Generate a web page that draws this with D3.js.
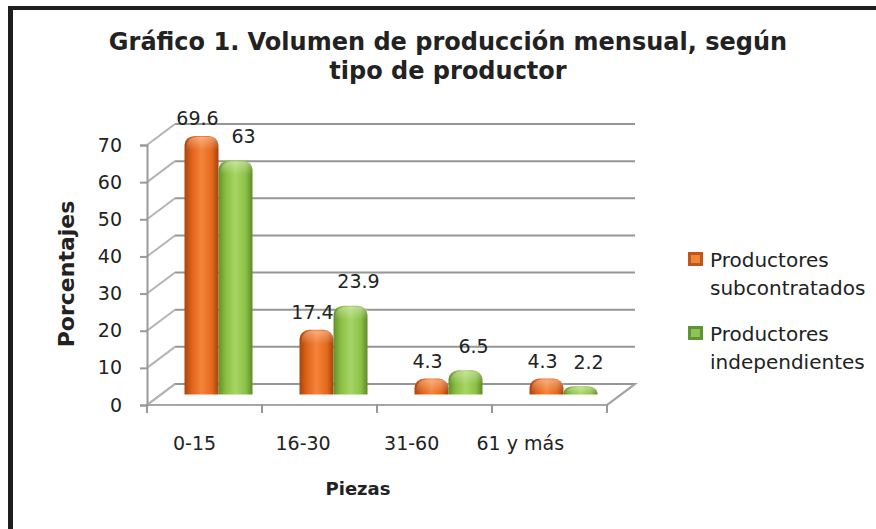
<!DOCTYPE html>
<html>
<head>
<meta charset="utf-8">
<script src="https://cdn.jsdelivr.net/npm/d3@7"></script>
<style>
  body { margin: 0; background: #fff; }
  text { font-family: "DejaVu Sans", Verdana, sans-serif; fill: #222; }
</style>
</head>
<body>
<div id="chart"></div>
<script>
// Data
var categories = ["0-15", "16-30", "31-60", "61 y más"];
var seriesNames = ["Productores subcontratados", "Productores independientes"];
var subcontratados = [69.6, 17.4, 4.3, 4.3];
var independientes = [63, 23.9, 6.5, 2.2];
var yTicks = [0, 10, 20, 30, 40, 50, 60, 70];

//Width and height
var w = 876;
var h = 529;

// 3d depth offset of the back wall
var depthX = 28, depthY = -21;

var svg = d3.select("#chart").append("svg")
  .attr("width", w)
  .attr("height", h);

svg.append("rect").attr("width", w).attr("height", h).attr("fill", "#fff");

//Frame (only top and left are visible)
svg.append("rect").attr("x", 8).attr("y", 6).attr("width", w - 8).attr("height", 4).attr("fill", "#1e1e1e");
svg.append("rect").attr("x", 8).attr("y", 6).attr("width", 5).attr("height", h - 6).attr("fill", "#1e1e1e");

//Scales
var xScale = d3.scaleBand()
  .domain(categories)
  .range([147, 607])
  .padding(0);

var yScale = d3.scaleLinear()
  .domain([0, 70])
  .range([405, 145]);

var series = [
  { name: seriesNames[0], values: subcontratados, key: "orange" },
  { name: seriesNames[1], values: independientes, key: "green" }
];

//Gradients
var defs = svg.append("defs");
var grads = {
  orange: [["0%", "#a9440b"], ["22%", "#e0641a"], ["50%", "#f5843a"], ["80%", "#e46a1d"], ["100%", "#a5430d"]],
  green: [["0%", "#648f2a"], ["22%", "#8bbf43"], ["50%", "#a7d565"], ["80%", "#8cc146"], ["100%", "#5f8a28"]]
};
Object.keys(grads).forEach(function(k){
  var g = defs.append("linearGradient").attr("id", "g-" + k)
    .attr("x1", "0%").attr("x2", "100%").attr("y1", "0%").attr("y2", "0%");
  grads[k].forEach(function(s){
    g.append("stop").attr("offset", s[0]).attr("stop-color", s[1]);
  });
});
var capGrad = defs.append("linearGradient").attr("id", "cap")
  .attr("x1", "0%").attr("x2", "0%").attr("y1", "0%").attr("y2", "100%");
capGrad.append("stop").attr("offset", "0%").attr("stop-color", "#fff").attr("stop-opacity", 0.35);
capGrad.append("stop").attr("offset", "100%").attr("stop-color", "#fff").attr("stop-opacity", 0);

var x0 = xScale.range()[0], x1 = xScale.range()[1];

//Floor
svg.append("path")
  .attr("d", "M" + x0 + "," + yScale(0) + "L" + x1 + "," + yScale(0) +
    "L" + (x1 + depthX) + "," + (yScale(0) + depthY) + "L" + (x0 + depthX) + "," + (yScale(0) + depthY) + "Z")
  .attr("fill", "#fff")
  .attr("stroke", "#a6a6a6")
  .attr("stroke-width", 2);

//Back wall gridlines
svg.selectAll("line.grid")
  .data(yTicks)
  .enter()
  .append("line")
  .attr("class", "grid")
  .attr("x1", x0 + depthX)
  .attr("x2", x1 + depthX)
  .attr("y1", function(d){ return yScale(d) + depthY; })
  .attr("y2", function(d){ return yScale(d) + depthY; })
  .attr("stroke", "#969696")
  .attr("stroke-width", 2);

//Side wall diagonals
svg.selectAll("line.diag")
  .data(yTicks)
  .enter()
  .append("line")
  .attr("class", "diag")
  .attr("x1", x0)
  .attr("x2", x0 + depthX)
  .attr("y1", function(d){ return yScale(d); })
  .attr("y2", function(d){ return yScale(d) + depthY; })
  .attr("stroke", "#b4b4b4")
  .attr("stroke-width", 2);

//Right floor edge
svg.append("line")
  .attr("x1", x1).attr("y1", yScale(0))
  .attr("x2", x1 + depthX).attr("y2", yScale(0) + depthY)
  .attr("stroke", "#a6a6a6").attr("stroke-width", 2);

//Y axis (front)
var yAxis = d3.axisLeft(yScale).tickValues(yTicks).tickSize(7).tickPadding(18);
var gy = svg.append("g")
  .attr("class", "axis y")
  .attr("transform", "translate(" + x0 + ",0)")
  .call(yAxis);
gy.select(".domain").attr("stroke", "#999").attr("stroke-width", 2);
gy.selectAll(".tick line").attr("stroke", "#999").attr("stroke-width", 2);
gy.selectAll(".tick text")
  .style("font-family", "DejaVu Sans, Verdana, sans-serif")
  .style("font-size", "19px")
  .attr("fill", "#222");

//X axis (front)
var xAxis = d3.axisBottom(xScale).tickSize(0).tickFormat("");
var gx = svg.append("g")
  .attr("class", "axis x")
  .attr("transform", "translate(0," + yScale(0) + ")")
  .call(xAxis);
gx.select(".domain").remove();
svg.selectAll("line.xtick")
  .data(d3.range(categories.length + 1))
  .enter()
  .append("line")
  .attr("x1", function(i){ return x0 + i * xScale.bandwidth(); })
  .attr("x2", function(i){ return x0 + i * xScale.bandwidth(); })
  .attr("y1", yScale(0) - 1)
  .attr("y2", yScale(0) + 8)
  .attr("stroke", "#999")
  .attr("stroke-width", 2);

svg.selectAll("text.xlabel")
  .data(categories)
  .enter()
  .append("text")
  .attr("class", "xlabel")
  .attr("x", function(d, i){ return xScale(d) + xScale.bandwidth() / 2 - 10 - 6.4 * i; })
  .attr("y", 450)
  .attr("text-anchor", "middle")
  .style("font-size", "19px")
  .text(function(d){ return d; });

//Bars
var bw = 34;
function barX(cat, s){
  var c = xScale(cat) + xScale.bandwidth() / 2 + depthX / 2;
  return c - bw + s * bw;
}
function barPath(x, top, base){
  var hgt = base - top;
  var rx = 10, ry = Math.min(9, hgt * 0.8);
  return "M" + x + "," + base +
    "L" + x + "," + (top + ry) +
    "A" + rx + "," + ry + " 0 0 1 " + (x + rx) + "," + top +
    "L" + (x + bw - rx) + "," + top +
    "A" + rx + "," + ry + " 0 0 1 " + (x + bw) + "," + (top + ry) +
    "L" + (x + bw) + "," + base + "Z";
}

var base = yScale(0) + depthY / 2;

var groups = svg.selectAll("g.series")
  .data(series)
  .enter()
  .append("g")
  .attr("class", function(d){ return "series " + d.key; });

groups.each(function(sd, s){
  var g = d3.select(this);
  sd.values.forEach(function(v, i){
    var cat = categories[i];
    var x = barX(cat, s);
    var top = yScale(v) + depthY / 2;
    g.append("path")
      .attr("d", barPath(x, top, base))
      .attr("fill", "url(#g-" + sd.key + ")");
    g.append("path")
      .attr("d", barPath(x + 2, top + 1, Math.min(base, top + 14)))
      .attr("fill", "url(#cap)");
    g.append("text")
      .attr("x", x + bw / 2 + (s === 0 ? -4 : 8))
      .attr("y", top - (s === 0 ? 10.5 : 17.5))
      .attr("text-anchor", "middle")
      .style("font-size", "19px")
      .text(v);
  });
});

//Title
var title = svg.append("text")
  .attr("x", 448)
  .attr("text-anchor", "middle")
  .style("font-family", "'DejaVu Sans', sans-serif")
  .style("font-weight", "bold")
  .style("font-size", "24px")
  .attr("fill", "#1e1e1e");
title.append("tspan").attr("x", 448).attr("y", 50).text("Gráfico 1. Volumen de producción mensual, según");
title.append("tspan").attr("x", 448).attr("y", 79).text("tipo de productor");

//Axis titles
svg.append("text")
  .attr("transform", "translate(74,274) rotate(-90)")
  .attr("text-anchor", "middle")
  .style("font-weight", "bold")
  .style("font-size", "22px")
  .text("Porcentajes");

svg.append("text")
  .attr("x", 358)
  .attr("y", 495)
  .attr("text-anchor", "middle")
  .style("font-weight", "bold")
  .style("font-size", "18px")
  .text("Piezas");

//Legend
var legendColors = { orange: ["#c0561a", "#f0853a"], green: ["#5f9433", "#8cc456"] };
var legend = svg.selectAll("g.legend")
  .data(series)
  .enter()
  .append("g")
  .attr("class", "legend")
  .attr("transform", function(d, i){ return "translate(688," + (252 + i * 74) + ")"; });
legend.append("rect")
  .attr("width", 15).attr("height", 14)
  .attr("fill", function(d){ return legendColors[d.key][0]; });
legend.append("path")
  .attr("d", "M3,3L12,3L12,11L3,11Z")
  .attr("fill", function(d){ return legendColors[d.key][1]; });
legend.append("text")
  .attr("x", 22)
  .style("font-size", "20px")
  .each(function(d){
    var words = d.name.split(" ");
    d3.select(this).append("tspan").attr("x", 22).attr("y", 15).text(words[0]);
    d3.select(this).append("tspan").attr("x", 22).attr("y", 43).text(words[1]);
  });
</script>
</body>
</html>
